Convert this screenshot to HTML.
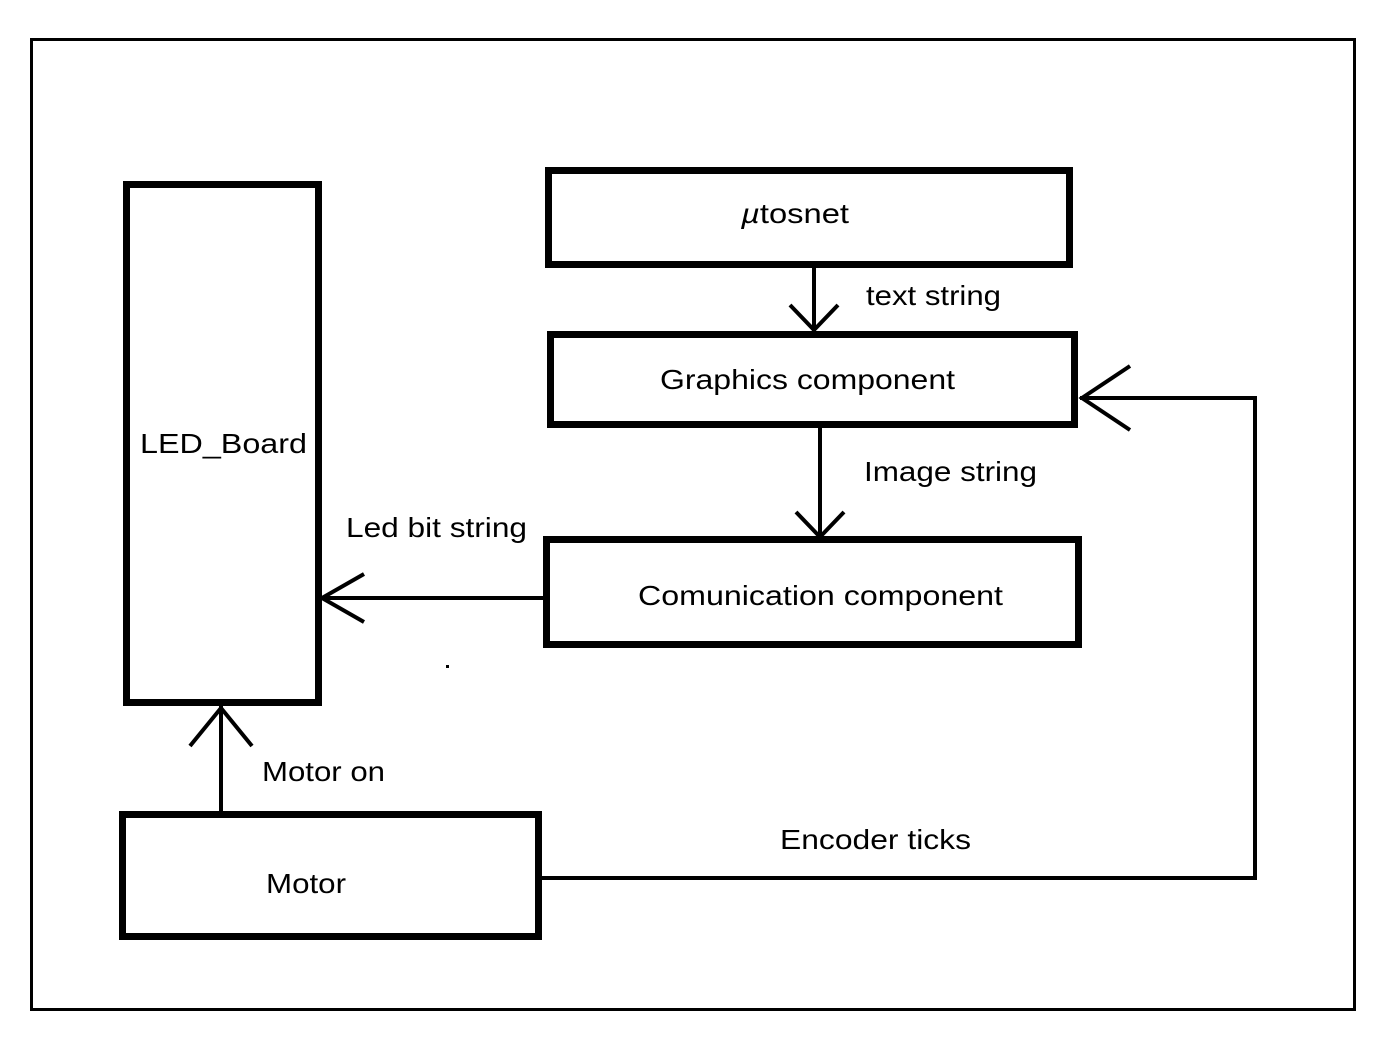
<!DOCTYPE html>
<html><head><style>html,body{margin:0;padding:0;background:#fff}</style></head><body>
<svg width="1386" height="1042" xmlns="http://www.w3.org/2000/svg" style="display:block">
<rect x="0" y="0" width="1386" height="1042" fill="#fff"/>
<rect x="31.5" y="39.5" width="1323" height="970" fill="none" stroke="#000" stroke-width="3"/>
<g fill="none" stroke="#000" stroke-width="7">
<rect x="548.5" y="170.5" width="521" height="94"/>
<rect x="550.5" y="334.5" width="524" height="90"/>
<rect x="546.5" y="539.5" width="532" height="105"/>
<rect x="126.5" y="184.5" width="192" height="518"/>
<rect x="122.5" y="814.5" width="416" height="122"/>
</g>
<g fill="none" stroke="#000" stroke-width="4">
<line x1="814" y1="268" x2="814" y2="331"/>
<polyline points="790,305 814,330 838,305"/>
<line x1="820" y1="428" x2="820" y2="536"/>
<polyline points="796,512 820,537 844,512"/>
<line x1="543" y1="598" x2="322" y2="598"/>
<polyline points="364,574 322,598 364,622"/>
<line x1="221" y1="811" x2="221" y2="706"/>
<polyline points="190,746 221,708 252,746"/>
<polyline points="542,878 1255,878 1255,398 1080,398"/>
<polyline points="1130,366 1082,398 1130,430"/>
</g>
<rect x="446" y="665" width="3" height="3" fill="#000"/>
<g font-family="Liberation Sans, sans-serif" font-size="28" fill="#000" lengthAdjust="spacingAndGlyphs">
<text x="741" y="223" textLength="108" lengthAdjust="spacingAndGlyphs"><tspan font-style="italic">µ</tspan>tosnet</text>
<text x="866" y="305" textLength="135" lengthAdjust="spacingAndGlyphs">text string</text>
<text x="660" y="389" textLength="295" lengthAdjust="spacingAndGlyphs">Graphics component</text>
<text x="864" y="481" textLength="173" lengthAdjust="spacingAndGlyphs">Image string</text>
<text x="346" y="537" textLength="181" lengthAdjust="spacingAndGlyphs">Led bit string</text>
<text x="638" y="605" textLength="365" lengthAdjust="spacingAndGlyphs">Comunication component</text>
<text x="140" y="453" textLength="167" lengthAdjust="spacingAndGlyphs">LED_Board</text>
<text x="262" y="781" textLength="123" lengthAdjust="spacingAndGlyphs">Motor on</text>
<text x="780" y="849" textLength="191" lengthAdjust="spacingAndGlyphs">Encoder ticks</text>
<text x="266" y="893" textLength="80" lengthAdjust="spacingAndGlyphs">Motor</text>
</g>
</svg>
</body></html>
